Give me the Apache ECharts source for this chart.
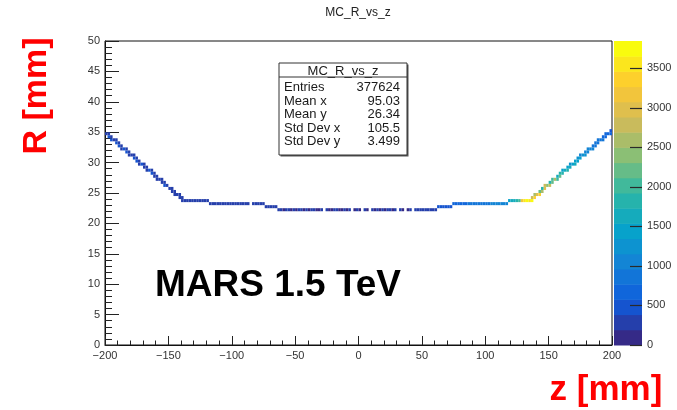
<!DOCTYPE html>
<html>
<head>
<meta charset="utf-8">
<title>MC_R_vs_z</title>
<script src="https://cdn.jsdelivr.net/npm/echarts@6/dist/echarts.min.js"></script>
<style>
  html, body { margin: 0; padding: 0; background: #ffffff; }
  #chart { width: 677px; height: 410px; }
</style>
</head>
<body>
<div id="chart"></div>
<script>
// ---- histogram binning (z in mm, R in mm) ----
const zStart = -200;
const zBinWidth = 2;
const rBinWidth = 0.5;

// lower edge of the (lowest) filled R bin for each 2 mm z bin, z = -200 .. 200
const rBinLow = [
  // -200 .. -138 : inner cone
  34.5, 34, 33.5, 33.5, 33, 32.5, 32, 32, 31.5, 31, 31, 30.5, 30, 29.5, 29.5, 29,
  28.5, 28.5, 28, 27.5, 27, 27, 26.5, 26, 26, 25.5, 25, 24.5, 24.5, 24, 23.5,
  // -138 .. -118
  23.5, 23.5, 23.5, 23.5, 23.5, 23.5, 23.5, 23.5, 23.5, 23.5,
  // -118 .. -74
  23, 23, 23, 23, 23, 23, 23, 23, 23, 23, 23, 23, 23, 23, 23, 23, 23, 23, 23, 23, 23, 23,
  // -74 .. -64
  22.5, 22.5, 22.5, 22.5, 22.5,
  // -64 .. 62 : beam pipe centre
  22, 22, 22, 22, 22, 22, 22, 22, 22, 22, 22, 22, 22, 22, 22, 22, 22, 22, 22, 22, 22,
  22, 22, 22, 22, 22, 22, 22, 22, 22, 22, 22, 22, 22, 22, 22, 22, 22, 22, 22, 22, 22,
  22, 22, 22, 22, 22, 22, 22, 22, 22, 22, 22, 22, 22, 22, 22, 22, 22, 22, 22, 22, 22,
  // 62 .. 74
  22.5, 22.5, 22.5, 22.5, 22.5, 22.5,
  // 74 .. 118
  23, 23, 23, 23, 23, 23, 23, 23, 23, 23, 23, 23, 23, 23, 23, 23, 23, 23, 23, 23, 23, 23,
  // 118 .. 136
  23.5, 23.5, 23.5, 23.5, 23.5, 23.5, 23.5, 23.5, 23.5,
  // 136 .. 200 : outer cone
  23.5, 24, 24.5, 24.5, 25, 25.5, 26, 26, 26.5, 27, 27, 27.5, 28, 28.5, 28.5, 29,
  29.5, 29.5, 30, 30.5, 31, 31, 31.5, 32, 32, 32.5, 33, 33.5, 33.5, 34, 34.5, 34.5
];

// entries in each of those bins
const binCounts = [
  380, 420, 400, 360, 410, 390, 350, 400, 420, 380, 360, 400, 390, 370, 410, 380,
  350, 390, 400, 370, 360, 380, 350, 390, 370, 340, 380, 360, 350, 330, 300,
  300, 290, 310, 280, 300, 290, 310, 300, 280, 290,
  280, 270, 290, 260, 280, 270, 290, 280, 260, 270, 280, 290, 270, 280, 260, 280, 0, 270, 290, 280, 270, 260,
  250, 240, 260, 250, 240,
  210, 200, 190, 205, 195, 185, 200, 190, 210, 195,
  185, 200, 190, 205, 195, 180, 190, 200, 0, 195,
  190, 185, 200, 195, 180, 190, 205, 185, 195, 0,
  190, 200, 185, 0, 195, 190, 0, 200, 185, 195,
  190, 205, 185, 200, 195, 190, 200, 0, 195, 185,
  0, 190, 200, 0, 195, 210, 220, 230, 240, 250,
  260, 270, 280,
  450, 480, 500, 470, 520, 500,
  650, 700, 680, 720, 760, 740, 780, 820, 800, 850, 880, 860, 900, 940, 920, 980, 1000, 1050, 1020, 1080, 1120, 1150,
  1400, 1550, 1650, 1800, 1950, 3200, 3600, 3840, 3500,
  3700, 3300, 2900, 3400, 2600, 3000, 2400, 2700, 2200, 2500, 2000, 2300, 1900, 1700, 1800, 1600,
  1500, 1650, 1400, 1350, 1250, 1300, 1150, 1100, 1000, 950, 900, 850, 800, 750, 700, 650
];

// on the cones a z bin also reaches into the next R bin up
const extraZLow = [
  -198, -196, -192, -190, -188, -184, -182, -178, -176, -174, -170,
  -168, -164, -162, -160, -156, -154, -148, -146, -142, -140,
  136, 138, 142, 144, 146, 150, 152, 156, 158, 160, 164, 166,
  170, 172, 174, 178, 180, 184, 186, 188, 192, 194, 198
];
const extraRLow = [
  34.5, 34, 33.5, 33, 32.5, 32, 31.5, 31, 30.5, 30, 29.5,
  29, 28.5, 28, 27.5, 27, 26.5, 25.5, 25, 24.5, 24,
  24, 24.5, 25, 25.5, 26, 26.5, 27, 27.5, 28, 28.5, 29, 29.5,
  30, 30.5, 31, 31.5, 32, 32.5, 33, 33.5, 34, 34.5, 35
];
const extraCounts = [
  300, 320, 280, 310, 290, 330, 300, 280, 310, 290, 300,
  280, 320, 290, 300, 280, 310, 290, 300, 280, 260,
  2800, 2500, 2300, 1900, 2700, 1800, 2100, 1600, 1900, 1500, 1450, 1300,
  1350, 1200, 1100, 1050, 1000, 900, 850, 800, 700, 650, 550
];

// axis ticks
const zTicks = [-200, -150, -100, -50, 0, 50, 100, 150, 200];
const rTicks = [0, 5, 10, 15, 20, 25, 30, 35, 40, 45, 50];
const paletteTicks = [0, 500, 1000, 1500, 2000, 2500, 3000, 3500];

// statistics box
const statTitle = 'MC_R_vs_z';
const statNames = ['Entries', 'Mean x', 'Mean y', 'Std Dev x', 'Std Dev y'];
const statValues = ['377624', '95.03', '26.34', '105.5', '3.499'];

// ---- colour palette (kBird), drawn as 20 contour bands ----
const birdStops = [0, 0.125, 0.25, 0.375, 0.5, 0.625, 0.75, 0.875, 1];
const birdRGB = [
  [53, 42, 135], [15, 92, 221], [20, 129, 214], [6, 164, 202], [46, 183, 164],
  [135, 191, 119], [209, 187, 89], [254, 200, 50], [249, 251, 14]
];
const nBands = 20;
const zMax = Math.max.apply(null, binCounts.concat(extraCounts));

function birdColor(f) {
  f = Math.max(0, Math.min(1, f));
  let k = 0;
  while (k < birdStops.length - 2 && f > birdStops[k + 1]) k++;
  const t = (f - birdStops[k]) / (birdStops[k + 1] - birdStops[k]);
  const a = birdRGB[k], b = birdRGB[k + 1];
  const c = a.map((v, j) => Math.round(v + (b[j] - v) * t));
  return 'rgb(' + c.join(',') + ')';
}
function bandOf(count) {
  return Math.min(nBands - 1, Math.floor(count / zMax * nBands));
}
function bandColor(band) {
  return birdColor(band / (nBands - 1));
}

// cells of the 2D histogram: [zLow, rLow, count]
const cells = [];
rBinLow.forEach((r, i) => {
  if (binCounts[i] > 0) cells.push([zStart + i * zBinWidth, r, binCounts[i]]);
});
extraZLow.forEach((z, k) => cells.push([z, extraRLow[k], extraCounts[k]]));

// palette bands: [x, lowValue, highValue, band]
const bands = [];
for (let b = 0; b < nBands; b++) {
  bands.push([0, b * zMax / nBands, (b + 1) * zMax / nBands, b]);
}

const FONT = '"Liberation Sans", Arial, Helvetica, sans-serif';
const minus = v => String(v).replace('-', '\u2212');

const chart = echarts.init(document.getElementById('chart'), null, { renderer: 'canvas' });

// stats box geometry
const box = { x: 279, y: 63, w: 128, h: 92, head: 14, row: 13.6 };
const statGraphics = [
  { type: 'rect', shape: { x: box.x + 1.5, y: box.y + 1.5, width: box.w, height: box.h },
    style: { fill: '#555' }, z: 10 },
  { type: 'rect', shape: { x: box.x, y: box.y, width: box.w, height: box.h },
    style: { fill: '#fff', stroke: '#333', lineWidth: 1 }, z: 11 },
  { type: 'line', shape: { x1: box.x, y1: box.y + box.head, x2: box.x + box.w, y2: box.y + box.head },
    style: { stroke: '#333', lineWidth: 1 }, z: 12 },
  { type: 'text', x: box.x + box.w / 2, y: box.y + box.head / 2 + 1, z: 12,
    style: { text: statTitle, font: '13px ' + FONT, fill: '#1a1a1a', textAlign: 'center', textVerticalAlign: 'middle' } }
];
statNames.forEach((name, k) => {
  const cy = box.y + box.head + 10.5 + k * box.row;
  statGraphics.push({ type: 'text', x: box.x + 5, y: cy, z: 12,
    style: { text: name, font: '13px ' + FONT, fill: '#1a1a1a', textAlign: 'left', textVerticalAlign: 'middle' } });
  statGraphics.push({ type: 'text', x: box.x + box.w - 7, y: cy, z: 12,
    style: { text: statValues[k], font: '13px ' + FONT, fill: '#1a1a1a', textAlign: 'right', textVerticalAlign: 'middle' } });
});

const option = {
  backgroundColor: '#ffffff',
  animation: false,
  grid: [
    { left: 105, top: 41, width: 507, height: 304, show: true, borderColor: '#111', borderWidth: 1, backgroundColor: 'transparent' },
    { left: 614, top: 41, width: 28, height: 304, show: false }
  ],
  xAxis: [
    {
      gridIndex: 0, type: 'value', min: zTicks[0], max: zTicks[zTicks.length - 1], interval: 50,
      axisLine: { onZero: false, lineStyle: { color: '#111', width: 1 } },
      axisTick: { inside: true, length: 9, lineStyle: { color: '#222' } },
      minorTick: { show: true, splitNumber: 5, length: 4.5, lineStyle: { color: '#222' } },
      splitLine: { show: false },
      axisLabel: { margin: 5, color: '#333', fontSize: 11, fontFamily: FONT, formatter: minus }
    },
    { gridIndex: 1, type: 'value', min: 0, max: 1, show: false }
  ],
  yAxis: [
    {
      gridIndex: 0, type: 'value', min: rTicks[0], max: rTicks[rTicks.length - 1], interval: 5,
      axisLine: { onZero: false, lineStyle: { color: '#111', width: 1 } },
      axisTick: { inside: true, length: 14, lineStyle: { color: '#222' } },
      minorTick: { show: true, splitNumber: 5, length: 7, lineStyle: { color: '#222' } },
      splitLine: { show: false },
      axisLabel: { margin: 5, color: '#333', fontSize: 11, fontFamily: FONT }
    },
    {
      gridIndex: 1, type: 'value', position: 'right', min: 0, max: zMax, interval: 500,
      axisLine: { show: false, onZero: false },
      axisTick: { show: false },
      splitLine: { show: false },
      axisLabel: {
        margin: 5, color: '#333', fontSize: 11, fontFamily: FONT,
        formatter: v => (paletteTicks.indexOf(v) >= 0 ? String(v) : '')
      }
    }
  ],
  series: [
    {
      type: 'custom',
      name: 'MC_R_vs_z',
      xAxisIndex: 0, yAxisIndex: 0,
      data: cells,
      encode: { x: 0, y: 1 },
      clip: true,
      renderItem: function (params, api) {
        const z0 = api.value(0), r0 = api.value(1), n = api.value(2);
        const p0 = api.coord([z0, r0 + rBinWidth]);
        const p1 = api.coord([z0 + zBinWidth, r0]);
        return {
          type: 'rect',
          shape: { x: p0[0], y: p0[1], width: p1[0] - p0[0], height: p1[1] - p0[1] },
          style: { fill: bandColor(bandOf(n)) }
        };
      }
    },
    {
      type: 'custom',
      name: 'palette',
      xAxisIndex: 1, yAxisIndex: 1,
      z: 1,
      data: bands,
      encode: { x: 0, y: [1, 2] },
      renderItem: function (params, api) {
        const lo = api.value(1), hi = api.value(2), b = api.value(3);
        const p0 = api.coord([0, hi]);
        const p1 = api.coord([1, lo]);
        return {
          type: 'rect',
          shape: { x: p0[0], y: p0[1], width: p1[0] - p0[0], height: p1[1] - p0[1] + 0.5 },
          style: { fill: bandColor(b) }
        };
      }
    },
    {
      // palette axis tick marks, on the right edge of the colour bar
      type: 'custom',
      name: 'paletteTicks',
      xAxisIndex: 1, yAxisIndex: 1,
      z: 5,
      data: paletteTicks.map(v => [1, v]),
      encode: { x: 0, y: 1 },
      renderItem: function (params, api) {
        const p = api.coord([api.value(0), api.value(1)]);
        const y = Math.round(p[1]) + 0.5;
        return {
          type: 'line',
          shape: { x1: p[0] - 12, y1: y, x2: p[0], y2: y },
          style: { stroke: '#2a2a2a', lineWidth: 1.2 }
        };
      }
    }
  ],
  graphic: [
    { type: 'text', x: 358, y: 13, z: 12,
      style: { text: 'MC_R_vs_z', font: '12px ' + FONT, fill: '#222', textAlign: 'center', textVerticalAlign: 'middle' } },
    { type: 'text', x: 37, y: 96, rotation: Math.PI / 2, z: 12,
      style: { text: 'R [mm]', font: 'bold 34px ' + FONT, fill: '#ff0000', textAlign: 'center', textVerticalAlign: 'middle' } },
    { type: 'text', x: 606, y: 390, z: 12,
      style: { text: 'z [mm]', font: 'bold 35px ' + FONT, fill: '#ff0000', textAlign: 'center', textVerticalAlign: 'middle' } },
    { type: 'text', x: 278, y: 286, z: 12,
      style: { text: 'MARS 1.5 TeV', font: 'bold 37px ' + FONT, fill: '#000', textAlign: 'center', textVerticalAlign: 'middle' } }
  ].concat(statGraphics)
};

chart.setOption(option);
</script>
</body>
</html>
